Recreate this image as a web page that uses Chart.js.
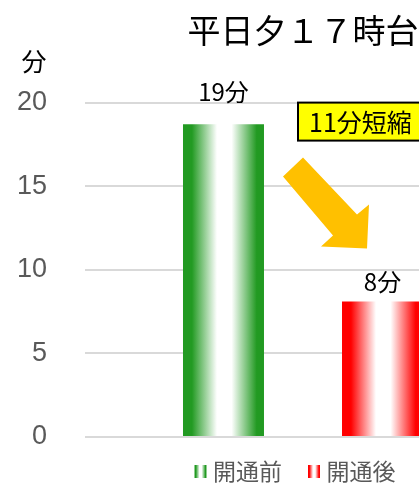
<!DOCTYPE html>
<html>
<head>
<meta charset="utf-8">
<script src="https://cdn.jsdelivr.net/npm/chart.js@4.4.1/dist/chart.umd.min.js"></script>
<style>
  html, body { margin: 0; padding: 0; overflow: hidden; background: #fff; }
  #wrap { width: 584px; height: 486px; }
</style>
</head>
<body>
<div id="wrap"><canvas id="mycanvas" width="584" height="486"></canvas></div>
<script>
// chart values
var categories = ['平日夕17時台'];
var seriesNames = ['開通前', '開通後'];
var before = [18.7];
var after = [8.1];
var valueLabels = [['19分'], ['8分']];
var yMax = 20;
var yStep = 5;
var titleText = '平日夕１７時台';
var unitText = '分';
var noteText = '11分短縮';

var jp = '"Noto Sans CJK JP", "Noto Sans", sans-serif';
var edgeColors = ['#229a22', '#ff0000'];
var catPct = 0.7294;
var barPct = 0.5094;

function gradientFor(ctx2d, left, width, edge) {
  var g = ctx2d.createLinearGradient(left, 0, left + width, 0);
  g.addColorStop(0, edge);
  g.addColorStop(0.11, edge);
  g.addColorStop(0.42, '#ffffff');
  g.addColorStop(0.6, '#ffffff');
  g.addColorStop(0.91, edge);
  g.addColorStop(1, edge);
  return g;
}

// bar fill: horizontal gradient edge -> white -> edge, placed from the x scale
function barFill(context) {
  var chart = context.chart;
  var edge = edgeColors[context.datasetIndex];
  var xs = chart.scales.x;
  if (!chart.chartArea || !xs) return edge;
  var center = xs.getPixelForValue(context.dataIndex);
  var catW = xs.width / categories.length;
  var slot = catW * catPct / seriesNames.length;
  var bx = center + (context.datasetIndex - (seriesNames.length - 1) / 2) * slot;
  var bw = slot * barPct;
  return gradientFor(chart.ctx, bx - bw / 2, bw, edge);
}

var extras = {
  id: 'extras',
  afterDraw: function(chart) {
    var c = chart.ctx;
    var area = chart.chartArea;
    c.save();

    // legend boxes with the same gradient
    var lg = chart.legend;
    if (lg && lg.legendHitBoxes) {
      lg.legendHitBoxes.forEach(function(hb, i) {
        var top = hb.top + (hb.height - 13) / 2;
        c.fillStyle = gradientFor(c, hb.left + 6, 12, edgeColors[i]);
        c.fillRect(hb.left + 6, top, 12, 13);
      });
    }

    // value labels above bars (moved above the plot top when too tall)
    c.fillStyle = '#000';
    c.font = '24px ' + jp;
    c.textAlign = 'center';
    c.textBaseline = 'alphabetic';
    chart.data.datasets.forEach(function(ds, di) {
      var meta = chart.getDatasetMeta(di);
      meta.data.forEach(function(el, i) {
        var y = el.y - 11;
        if (y - 22 < area.top) y = area.top - 2;
        c.fillText(valueLabels[di][i], el.x, y);
      });
    });

    // unit label
    c.font = '25px ' + jp;
    c.textBaseline = 'middle';
    c.fillText(unitText, 34, 61);

    // arrow
    var ox = area.left, oy = area.top;
    var pts = [[218, 55], [272, 112], [284, 102], [282, 146], [236, 144], [248, 133], [198, 74]];
    c.beginPath();
    pts.forEach(function(p, i) {
      if (i === 0) c.moveTo(ox + p[0], oy + p[1]);
      else c.lineTo(ox + p[0], oy + p[1]);
    });
    c.closePath();
    c.fillStyle = '#ffc000';
    c.fill();

    // note box
    c.font = '25px ' + jp;
    var tw = c.measureText(noteText).width;
    var bx = ox + 213, by = oy;
    c.fillStyle = '#ffff00';
    c.fillRect(bx, by, tw + 22, 38);
    c.lineWidth = 2;
    c.strokeStyle = '#000';
    c.strokeRect(bx, by, tw + 22, 38);
    c.fillStyle = '#000';
    c.textAlign = 'left';
    c.textBaseline = 'middle';
    c.fillText(noteText, bx + 11, by + 20);

    c.restore();
  }
};

var chartdata = {
  labels: categories,
  datasets: [
    { label: seriesNames[0], data: before, backgroundColor: barFill, categoryPercentage: catPct, barPercentage: barPct },
    { label: seriesNames[1], data: after, backgroundColor: barFill, categoryPercentage: catPct, barPercentage: barPct }
  ]
};

var ctx = document.getElementById('mycanvas');
var BarGraph = new Chart(ctx, {
  type: 'bar',
  data: chartdata,
  plugins: [extras],
  options: {
    responsive: false,
    animation: false,
    layout: { padding: 0 },
    plugins: {
      title: {
        display: true,
        fullSize: false,
        text: titleText,
        color: '#000',
        font: { family: jp, size: 33, weight: 'normal' },
        padding: { top: 11, bottom: 52 }
      },
      legend: {
        position: 'bottom',
        maxHeight: 46,
        labels: {
          boxWidth: 13,
          boxHeight: 13,
          padding: 20,
          color: '#595959',
          font: { family: jp, size: 23 },
          generateLabels: function(chart) {
            return chart.data.datasets.map(function(ds, i) {
              return { text: ds.label, fillStyle: 'rgba(0,0,0,0)', strokeStyle: 'rgba(0,0,0,0)', lineWidth: 0, datasetIndex: i, hidden: false, fontColor: '#595959' };
            });
          }
        }
      },
      tooltip: { enabled: false }
    },
    scales: {
      x: {
        grid: { display: false },
        border: { display: false },
        ticks: { display: false },
        afterFit: function(s) { s.height = 3; }
      },
      y: {
        min: 0,
        max: yMax,
        ticks: { stepSize: yStep, padding: 2, color: '#595959', font: { family: '"Liberation Sans", Arial, sans-serif', size: 27 } },
        grid: { color: '#d9d9d9', lineWidth: 2, drawTicks: true, tickLength: 36, tickColor: 'rgba(0,0,0,0)' },
        border: { display: false },
        afterFit: function(s) { s.width = 85; }
      },
      yR: {
        position: 'right',
        display: true,
        ticks: { display: false },
        grid: { display: false },
        border: { display: false },
        afterFit: function(s) { s.width = 63; }
      }
    }
  }
});
</script>
</body>
</html>
